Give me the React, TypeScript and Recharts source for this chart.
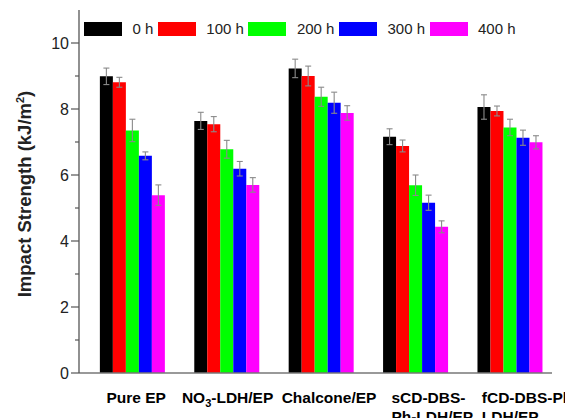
import React from 'react';
import { BarChart, Bar, XAxis, YAxis, ErrorBar } from 'recharts';

// aging time series and sample groups
const categories = ['Pure EP', 'NO3-LDH/EP', 'Chalcone/EP', 'sCD-DBS-Ph-LDH/EP', 'fCD-DBS-Ph-LDH/EP'];
const tickLines = [['Pure EP'], ['NO3-LDH/EP'], ['Chalcone/EP'], ['sCD-DBS-', 'Ph-LDH/EP'], ['fCD-DBS-Ph-', 'LDH/EP']];
const seriesNames = ['0 h', '100 h', '200 h', '300 h', '400 h'];

const h0 = [8.99, 7.64, 9.23, 7.16, 8.06];
const h100 = [8.81, 7.54, 9.0, 6.88, 7.94];
const h200 = [7.35, 6.78, 8.37, 5.69, 7.44];
const h300 = [6.58, 6.19, 8.19, 5.16, 7.13];
const h400 = [5.39, 5.7, 7.88, 4.43, 6.99];

const e0 = [0.25, 0.26, 0.28, 0.24, 0.37];
const e100 = [0.15, 0.23, 0.3, 0.18, 0.15];
const e200 = [0.34, 0.27, 0.29, 0.31, 0.25];
const e300 = [0.12, 0.22, 0.32, 0.23, 0.23];
const e400 = [0.31, 0.22, 0.22, 0.18, 0.2];

const yTicks = [0, 1, 2, 3, 4, 5, 6, 7, 8, 9, 10];

const COLORS = ['#000000', '#ff0000', '#00ff00', '#0000ff', '#ff00ff'];
const values = [h0, h100, h200, h300, h400];
const errors = [e0, e100, e200, e300, e400];

// label alignment under each group
const TICK_ANCHOR = ['middle', 'middle', 'middle', 'start', 'start'];
const TICK_SHIFT = [3, 0, 7, -25, -29];

const data = categories.map((name, i) => {
  const row: Record<string, number | string> = { name };
  values.forEach((v, s) => {
    row[`v${s}`] = v[i];
    row[`e${s}`] = errors[s][i];
  });
  return row;
});

const FONT = 'Liberation Sans, Arial, sans-serif';

const renderLine = (text: string) => {
  if (text.startsWith('NO3')) {
    return (
      <>
        NO
        <tspan dy={4} fontSize={11}>3</tspan>
        <tspan dy={-4}>{text.slice(3)}</tspan>
      </>
    );
  }
  return text;
};

const CategoryTick = (props: any) => {
  const { x, y, index } = props;
  const lines = tickLines[index] || [];
  return (
    <g>
      {lines.map((line, k) => (
        <text
          key={k}
          x={x + TICK_SHIFT[index]}
          y={y + 30 + k * 18.5}
          textAnchor={TICK_ANCHOR[index] as any}
          fontFamily={FONT}
          fontWeight="bold"
          fontSize={15.5}
          fill="#000"
        >
          {renderLine(line)}
        </text>
      ))}
    </g>
  );
};

const ValueTick = (props: any) => {
  const { x, y, payload } = props;
  const major = payload.value % 2 === 0;
  return (
    <g>
      <line x1={x - (major ? 8 : 4)} x2={x} y1={y} y2={y} stroke="#555" strokeWidth={1.2} />
      {major && (
        <text x={x - 10} y={y} dy={5.5} textAnchor="end" fontFamily={FONT} fontSize={16} fill="#222">
          {payload.value}
        </text>
      )}
    </g>
  );
};

const YTitle = () => (
  <text
    transform="translate(31, 194) rotate(-90)"
    textAnchor="middle"
    fontFamily={FONT}
    fontWeight="bold"
    fontSize={18.5}
    fill="#222"
  >
    Impact Strength (kJ/m
    <tspan dy={-7} fontSize={11}>2</tspan>
    <tspan dy={7}>)</tspan>
  </text>
);

const Legend = () => (
  <div
    style={{
      position: 'absolute',
      left: 84,
      top: 22,
      display: 'flex',
      alignItems: 'center',
      fontFamily: FONT,
      fontSize: 15,
      color: '#222',
      lineHeight: '14px',
    }}
  >
    {seriesNames.map((name, i) => (
      <div key={name} style={{ display: 'flex', alignItems: 'center', marginRight: 4.5 }}>
        <div style={{ width: 38, height: 14, background: COLORS[i] }} />
        <span style={{ marginLeft: 10.5, whiteSpace: 'nowrap' }}>{name}</span>
      </div>
    ))}
  </div>
);

export default function App() {
  return (
    <div style={{ position: 'absolute', left: 0, top: 0, width: 565, height: 418, background: '#fff', overflow: 'hidden' }}>
      <BarChart
        width={565}
        height={418}
        data={data}
        margin={{ top: 10, right: 13, bottom: 0, left: 0 }}
        barCategoryGap="14.7%"
        barGap={0}
      >
        <XAxis
          dataKey="name"
          height={45}
          padding={{ left: 7, right: -6 }}
          tickLine={false}
          tickSize={0}
          tickMargin={0}
          interval={0}
          axisLine={{ stroke: '#777', strokeWidth: 1.5 }}
          tick={<CategoryTick />}
        />
        <YAxis
          width={79}
          type="number"
          domain={[0, 11]}
          ticks={yTicks}
          interval={0}
          tickLine={false}
          tickSize={0}
          tickMargin={0}
          axisLine={{ stroke: '#555', strokeWidth: 1.3 }}
          tick={<ValueTick />}
          label={{ content: () => <YTitle /> }}
        />
        {seriesNames.map((name, s) => (
          <Bar key={name} dataKey={`v${s}`} name={name} fill={COLORS[s]} isAnimationActive={false}>
            <ErrorBar dataKey={`e${s}`} width={3} stroke="#8a8a8a" strokeWidth={1.1} direction="y" />
          </Bar>
        ))}
      </BarChart>
      <Legend />
    </div>
  );
}
